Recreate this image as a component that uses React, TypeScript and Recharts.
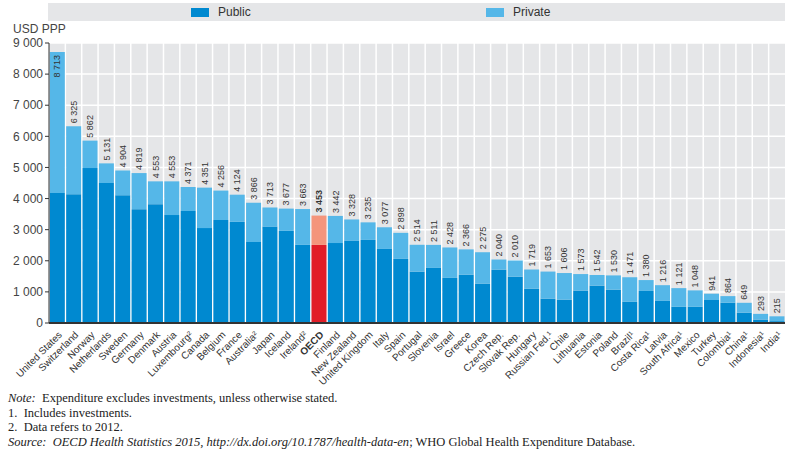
import React from 'react';
import { BarChart, Bar, XAxis, YAxis, CartesianGrid, Cell, LabelList } from 'recharts';

const countries = [
  'United States', 'Switzerland', 'Norway', 'Netherlands', 'Sweden', 'Germany', 'Denmark', 'Austria',
  'Luxembourg²', 'Canada', 'Belgium', 'France', 'Australia²', 'Japan', 'Iceland', 'Ireland²', 'OECD',
  'Finland', 'New Zealand', 'United Kingdom', 'Italy', 'Spain', 'Portugal', 'Slovenia', 'Israel',
  'Greece', 'Korea', 'Czech Rep.', 'Slovak Rep.', 'Hungary', 'Russian Fed.¹', 'Chile', 'Lithuania',
  'Estonia', 'Poland', 'Brazil¹', 'Costa Rica¹', 'Latvia', 'South Africa¹', 'Mexico', 'Turkey',
  'Colombia¹', 'China¹', 'Indonesia¹', 'India¹',
];

// total spending per capita (labels above bars)
const totals = [
  8713, 6325, 5862, 5131, 4904, 4819, 4553, 4553, 4371, 4351, 4256, 4124, 3866, 3713, 3677, 3663, 3453,
  3442, 3328, 3235, 3077, 2898, 2514, 2511, 2428, 2366, 2275, 2040, 2010, 1719, 1653, 1606, 1573,
  1542, 1530, 1471, 1380, 1216, 1121, 1048, 941, 864, 649, 293, 215,
];

// public share
const publicSpend = [
  4180, 4140, 4980, 4500, 4110, 3660, 3820, 3470, 3600, 3050, 3310, 3250, 2600, 3090, 2960, 2510, 2510,
  2570, 2640, 2670, 2380, 2060, 1650, 1770, 1450, 1550, 1260, 1710, 1490, 1100, 780, 750, 1040,
  1200, 1070, 680, 1030, 710, 520, 520, 740, 650, 330, 110, 60,
];

const yTicks = [0, 1000, 2000, 3000, 4000, 5000, 6000, 7000, 8000, 9000];

const data = countries.map((name, i) => ({
  name,
  public: publicSpend[i],
  private: totals[i] - publicSpend[i],
  total: totals[i],
}));

const PUBLIC = '#0089d0';
const PRIVATE = '#55b7e8';
const OECD_PUBLIC = '#e11d27';
const OECD_PRIVATE = '#f4957c';
const SANS = '"Liberation Sans", Arial, sans-serif';

const fmt = (v: number) => String(v).replace(/\B(?=(\d{3})+(?!\d))/g, ' ');

const TotalLabel = (props: any) => {
  const { x, y, width, value, index } = props;
  const cx = x + width / 2;
  const inside = y < 70;
  const ay = inside ? y + 3 : y - 3;
  const bold = countries[index] === 'OECD';
  return (
    <text
      x={cx}
      y={ay}
      dy="0.35em"
      transform={`rotate(-90 ${cx} ${ay})`}
      textAnchor={inside ? 'end' : 'start'}
      fontSize={9}
      fontFamily={SANS}
      fontWeight={bold ? 'bold' : 'normal'}
      fill="#333"
    >
      {fmt(value)}
    </text>
  );
};

const CountryTick = (props: any) => {
  const { x, y, payload } = props;
  const bold = payload.value === 'OECD';
  return (
    <g transform={`translate(${x + 3},${y + 2})`}>
      <text
        transform="rotate(-45)"
        textAnchor="end"
        dy="0.35em"
        fontSize={10}
        fontFamily={SANS}
        fontWeight={bold ? 'bold' : 'normal'}
        fill="#333"
      >
        {payload.value}
      </text>
    </g>
  );
};

const swatch = (color: string) => ({
  display: 'inline-block',
  width: 18,
  height: 9,
  background: color,
  marginRight: 9,
  verticalAlign: 'middle',
});

export default function App() {
  return (
    <div style={{ position: 'absolute', left: 0, top: 0, width: 798, height: 451, background: '#fff', fontFamily: SANS }}>
      <div style={{ position: 'absolute', left: 48, top: 3, width: 737, height: 18, background: '#e5e6e8', fontSize: 12, color: '#333', lineHeight: '18px' }}>
        <span style={{ position: 'absolute', left: 143 }}>
          <span style={swatch(PUBLIC)} />Public
        </span>
        <span style={{ position: 'absolute', left: 438 }}>
          <span style={swatch(PRIVATE)} />Private
        </span>
      </div>
      <div style={{ position: 'absolute', left: 13, top: 22, fontSize: 12, color: '#444' }}>USD PPP</div>
      <BarChart
        width={798}
        height={451}
        data={data}
        margin={{ top: 43, right: 13, bottom: 48, left: 0 }}
        barCategoryGap="5%"
      >
        <CartesianGrid
          fill="#e5e6e8"
          fillOpacity={1}
          stroke="#ffffff"
          strokeWidth={1.5}
          verticalCoordinatesGenerator={({ offset }: any) =>
            countries.slice(1).map((_, i) => offset.left + ((i + 1) * offset.width) / countries.length)
          }
        />
        <XAxis
          dataKey="name"
          interval={0}
          height={80}
          tickLine={false}
          axisLine={{ stroke: '#333', strokeWidth: 2 }}
          tick={<CountryTick />}
        />
        <YAxis
          width={49}
          domain={[0, 9000]}
          ticks={yTicks}
          tickFormatter={fmt}
          axisLine={{ stroke: '#333' }}
          tickLine={{ stroke: '#333' }}
          tickSize={4}
          tick={{ fill: '#444', fontSize: 12 }}
        />
        <Bar dataKey="public" stackId="a" isAnimationActive={false}>
          {data.map((d, i) => (
            <Cell key={`pub-${i}`} fill={d.name === 'OECD' ? OECD_PUBLIC : PUBLIC} />
          ))}
        </Bar>
        <Bar dataKey="private" stackId="a" isAnimationActive={false}>
          {data.map((d, i) => (
            <Cell key={`pri-${i}`} fill={d.name === 'OECD' ? OECD_PRIVATE : PRIVATE} />
          ))}
          <LabelList dataKey="total" content={<TotalLabel />} />
        </Bar>
      </BarChart>
      <div style={{ position: 'absolute', left: 8, top: 391, fontFamily: '"Liberation Serif", "DejaVu Serif", serif', fontSize: 12.5, color: '#222', lineHeight: '14.5px' }}>
        <div><i>Note:</i>&nbsp; Expenditure excludes investments, unless otherwise stated.</div>
        <div>1.&nbsp; Includes investments.</div>
        <div>2.&nbsp; Data refers to 2012.</div>
        <div><i>Source:&nbsp; OECD Health Statistics 2015, http://dx.doi.org/10.1787/health-data-en</i>; WHO Global Health Expenditure Database.</div>
      </div>
    </div>
  );
}
